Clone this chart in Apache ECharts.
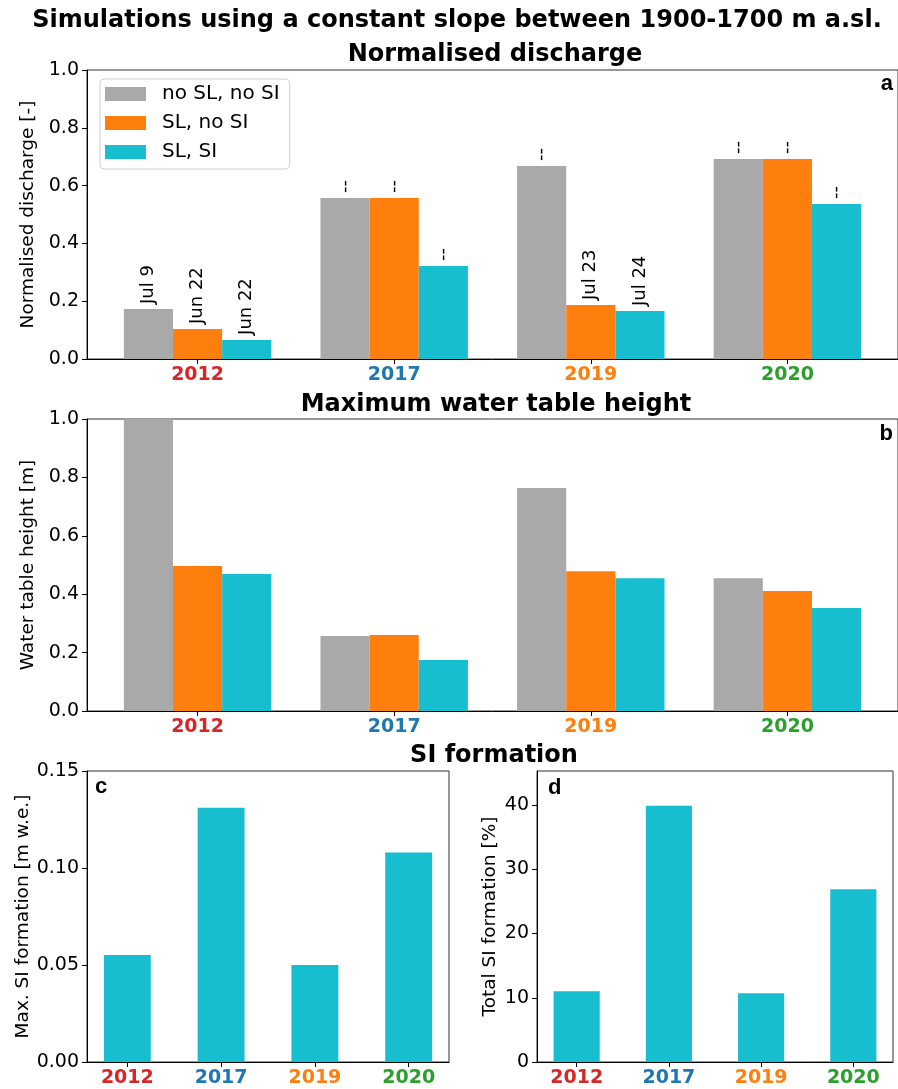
<!DOCTYPE html>
<html>
<head>
<meta charset="utf-8">
<script src="https://cdn.jsdelivr.net/npm/echarts@6/dist/echarts.min.js"></script>
<style>html,body{margin:0;padding:0;background:#fff}#c{width:898px;height:1089px}</style>
</head>
<body>
<div id="c"></div>
<script>
const years = ['2012', '2017', '2019', '2020'];
const yearColors = ['#d62728', '#1f77b4', '#ff7f0e', '#2ca02c'];
const seriesNames = ['no SL, no SI', 'SL, no SI', 'SL, SI'];
const seriesColors = ['#a9a9a9', '#ff7f0e', '#17becf'];
// Panel a: normalised discharge
const dischargeNoSLnoSI = [0.173, 0.557, 0.668, 0.692];
const dischargeSLnoSI = [0.104, 0.557, 0.187, 0.692];
const dischargeSLSI = [0.066, 0.322, 0.166, 0.536];
const dateNoSLnoSI = ['Jul 9', '--', '--', '--'];
const dateSLnoSI = ['Jun 22', '--', 'Jul 23', '--'];
const dateSLSI = ['Jun 22', '--', 'Jul 24', '--'];
// Panel b: maximum water table height
const wtNoSLnoSI = [1.0, 0.257, 0.764, 0.455];
const wtSLnoSI = [0.497, 0.260, 0.479, 0.411];
const wtSLSI = [0.469, 0.175, 0.455, 0.353];
// Panel c / d: SI formation
const maxSI = [0.0552, 0.131, 0.050, 0.108];
const totalSI = [11.0, 39.9, 10.7, 26.9];
const ticksD = [0, 10, 20, 30, 40];
const yearPositions = [0, 1, 2, 3];

const FONT = 'DejaVu Sans';
const rich = {};
years.forEach((y, i) => { rich['y' + i] = { color: yearColors[i], fontWeight: 'bold', fontSize: 19, fontFamily: FONT }; });

function valueXAxis(gridIndex, min, max) {
  return {
    type: 'value', gridIndex, min, max,
    axisLine: { show: true, onZero: false, lineStyle: { color: '#000', width: 1 } },
    axisTick: { show: true, length: 5, customValues: yearPositions, lineStyle: { color: '#000' } },
    axisLabel: { show: true, customValues: yearPositions, margin: 7,
      formatter: v => '{y' + v + '|' + years[v] + '}', rich },
    splitLine: { show: false }
  };
}
function yAxis(gridIndex, name, min, max, interval, decimals, nameGap) {
  return {
    type: 'value', gridIndex, min, max, interval,
    name, nameLocation: 'middle', nameGap, nameRotate: 90,
    nameTextStyle: { fontSize: 18.5, fontFamily: FONT, color: '#000' },
    axisLine: { show: true, onZero: false, lineStyle: { color: '#000', width: 1 } },
    axisTick: { show: true, length: 5, lineStyle: { color: '#000' } },
    axisLabel: { margin: 8, fontSize: 19, fontFamily: FONT, color: '#000',
      formatter: v => v.toFixed(decimals) },
    splitLine: { show: false }
  };
}
function labelFrom(arr) {
  return {
    show: true, position: 'top', rotate: 90, align: 'left', verticalAlign: 'middle', distance: 5,
    fontSize: 18, fontFamily: FONT, color: '#000',
    formatter: p => arr[p.dataIndex]
  };
}
function pairs(arr) { return arr.map((v, i) => [yearPositions[i], v]); }

const gridStyle = { show: true, borderColor: '#333', borderWidth: 1, backgroundColor: 'transparent' };
const yD = yAxis(3, 'Total SI formation [%]', 0, 45.3, null, 0, 37);
delete yD.interval;
yD.axisLabel.customValues = ticksD;
yD.axisTick.customValues = ticksD;

const option = {
  animation: false,
  textStyle: { fontFamily: FONT },
  grid: [
    Object.assign({ left: 87, top: 70, right: -6, height: 289 }, gridStyle),
    Object.assign({ left: 87, top: 419, right: -6, height: 292 }, gridStyle),
    Object.assign({ left: 87, top: 771, width: 362, height: 291 }, gridStyle),
    Object.assign({ left: 537, top: 771, width: 356, height: 291 }, gridStyle)
  ],
  xAxis: [
    valueXAxis(0, -0.5625, 3.5625), valueXAxis(1, -0.5625, 3.5625),
    valueXAxis(2, -0.43, 3.43), valueXAxis(3, -0.43, 3.43)
  ],
  yAxis: [
    yAxis(0, 'Normalised discharge [-]', 0, 1, 0.2, 1, 43),
    yAxis(1, 'Water table height [m]', 0, 1, 0.2, 1, 43),
    yAxis(2, 'Max. SI formation [m w.e.]', 0, 0.15, 0.05, 2, 43),
    yD
  ],
  legend: {
    show: true, left: 100, top: 79, orient: 'vertical', selectedMode: false,
    data: seriesNames, icon: 'rect', itemWidth: 41, itemHeight: 14, itemGap: 9,
    padding: [5, 10, 7, 5], backgroundColor: '#fff', borderColor: '#d0d0d0', borderWidth: 1, borderRadius: 4,
    textStyle: { fontSize: 20, fontFamily: FONT, color: '#000', padding: [0, 0, 0, 11] }
  },
  series: [
    { name: seriesNames[0], type: 'bar', xAxisIndex: 0, yAxisIndex: 0, data: pairs(dischargeNoSLnoSI), barWidth: '25%', barGap: '0%', itemStyle: { color: seriesColors[0] }, label: labelFrom(dateNoSLnoSI) },
    { name: seriesNames[1], type: 'bar', xAxisIndex: 0, yAxisIndex: 0, data: pairs(dischargeSLnoSI), barWidth: '25%', barGap: '0%', itemStyle: { color: seriesColors[1] }, label: labelFrom(dateSLnoSI) },
    { name: seriesNames[2], type: 'bar', xAxisIndex: 0, yAxisIndex: 0, data: pairs(dischargeSLSI), barWidth: '25%', barGap: '0%', itemStyle: { color: seriesColors[2] }, label: labelFrom(dateSLSI) },
    { name: seriesNames[0], type: 'bar', xAxisIndex: 1, yAxisIndex: 1, data: pairs(wtNoSLnoSI), barWidth: '25%', barGap: '0%', itemStyle: { color: seriesColors[0] } },
    { name: seriesNames[1], type: 'bar', xAxisIndex: 1, yAxisIndex: 1, data: pairs(wtSLnoSI), barWidth: '25%', barGap: '0%', itemStyle: { color: seriesColors[1] } },
    { name: seriesNames[2], type: 'bar', xAxisIndex: 1, yAxisIndex: 1, data: pairs(wtSLSI), barWidth: '25%', barGap: '0%', itemStyle: { color: seriesColors[2] } },
    { name: 'Max SI', type: 'bar', xAxisIndex: 2, yAxisIndex: 2, data: pairs(maxSI), barWidth: '50%', itemStyle: { color: seriesColors[2] } },
    { name: 'Total SI', type: 'bar', xAxisIndex: 3, yAxisIndex: 3, data: pairs(totalSI), barWidth: '50%', itemStyle: { color: seriesColors[2] } }
  ],
  graphic: [
    { type: 'text', x: 457, y: 9, style: { text: 'Simulations using a constant slope between 1900-1700 m a.sl.', font: 'bold 24px "DejaVu Sans"', fill: '#000', textAlign: 'center', textVerticalAlign: 'top' } },
    { type: 'text', x: 495, y: 43, style: { text: 'Normalised discharge', font: 'bold 24px "DejaVu Sans"', fill: '#000', textAlign: 'center', textVerticalAlign: 'top' } },
    { type: 'text', x: 496, y: 393, style: { text: 'Maximum water table height', font: 'bold 24px "DejaVu Sans"', fill: '#000', textAlign: 'center', textVerticalAlign: 'top' } },
    { type: 'text', x: 494, y: 744, style: { text: 'SI formation', font: 'bold 24px "DejaVu Sans"', fill: '#000', textAlign: 'center', textVerticalAlign: 'top' } },
    { type: 'text', x: 893, y: 73, style: { text: 'a', font: 'bold 22px "Liberation Sans"', fill: '#000', textAlign: 'right', textVerticalAlign: 'top' } },
    { type: 'text', x: 893, y: 423, style: { text: 'b', font: 'bold 22px "Liberation Sans"', fill: '#000', textAlign: 'right', textVerticalAlign: 'top' } },
    { type: 'text', x: 95, y: 776, style: { text: 'c', font: 'bold 22px "Liberation Sans"', fill: '#000', textAlign: 'left', textVerticalAlign: 'top' } },
    { type: 'text', x: 548, y: 777, style: { text: 'd', font: 'bold 22px "Liberation Sans"', fill: '#000', textAlign: 'left', textVerticalAlign: 'top' } }
  ]
};
const chart = echarts.init(document.getElementById('c'), null, { renderer: 'canvas' });
chart.setOption(option);
</script>
</body>
</html>
